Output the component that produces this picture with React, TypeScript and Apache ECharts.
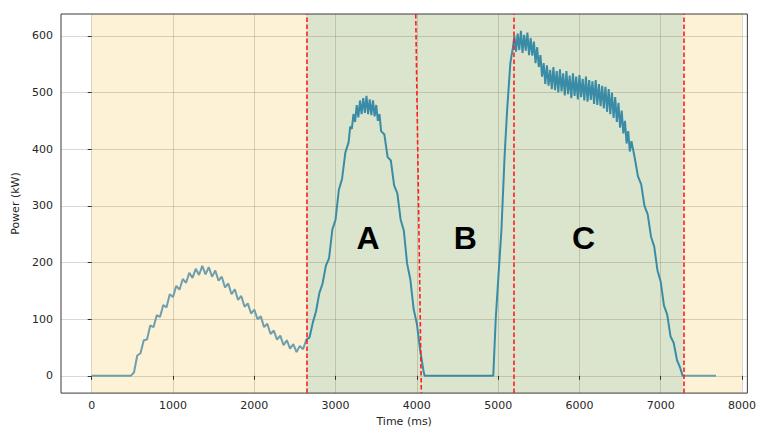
import React, { useEffect, useRef } from "react";
import * as echarts from "echarts";

// Idle + warm-up hump
const warmupTime = [0, 480, 520, 560, 600, 640, 680, 720, 760, 800, 840, 880, 920, 960, 1000, 1040, 1080, 1120, 1160, 1200, 1240, 1280, 1320, 1360, 1400, 1440, 1480, 1520, 1560, 1600, 1640, 1680, 1720, 1760, 1800, 1840, 1880, 1920, 1960, 2000, 2040, 2080, 2120, 2160, 2200, 2240, 2280, 2320, 2360, 2400, 2440, 2480, 2520, 2560, 2600];
const warmupPower = [0, 0, 6, 36, 40, 63, 64, 89, 86, 107, 104, 125, 121, 144, 139, 159, 152, 171, 164, 182, 173, 189, 178, 194, 179, 192, 175, 186, 168, 175, 156, 163, 144, 153, 134, 141, 122, 128, 110, 117, 100, 105, 86, 92, 74, 80, 64, 71, 54, 63, 48, 56, 42, 53, 47];

// Phase A
const phaseATime = [
  2640, 2680, 2720, 2760, 2800, 2840, 2880, 2920, 2960, 3000, 3040, 3080, 3120,
  3160, 3180, 3200, 3220, 3240, 3260, 3280, 3300, 3320, 3340, 3360, 3380, 3400, 3420, 3440, 3460, 3480, 3500, 3520, 3540, 3560,
  3600, 3640, 3680, 3720, 3760, 3800, 3840, 3880, 3920, 3960, 4000, 4040, 4080,
  4095,
];
const phaseAPower = [
  64, 68, 94, 114, 146, 163, 194, 208, 258, 276, 328, 348, 394,
  412, 440, 436, 462, 448, 478, 456, 486, 462, 490, 464, 494, 462, 488, 460, 486, 458, 478, 450, 462, 432,
  426, 386, 380, 336, 322, 276, 256, 198, 170, 118, 92, 46, 10,
  0,
];

// Phase B (idle)
const phaseBTime = [4940];
const phaseBPower = [0];

// Phase C
const phaseCTime = [
  4970, 5000, 5040, 5080, 5110, 5150, 5180,
  5200, 5220, 5240, 5260, 5280, 5300, 5320, 5340, 5360, 5380,
  5400, 5420, 5440, 5460, 5480, 5500, 5520, 5540, 5560, 5580,
  5600, 5620, 5640, 5660, 5680, 5700, 5720, 5740, 5760, 5780,
  5800, 5820, 5840, 5860, 5880, 5900, 5920, 5940, 5960, 5980,
  6000, 6020, 6040, 6060, 6080, 6100, 6120, 6140, 6160, 6180,
  6200, 6220, 6240, 6260, 6280, 6300, 6320, 6340, 6360, 6380,
  6400, 6420, 6440, 6460, 6480, 6500, 6520, 6540, 6560, 6580,
  6600, 6620, 6640,
  6680, 6720, 6760, 6800, 6840, 6880, 6920, 6960, 7000, 7040, 7080, 7120, 7160, 7200, 7240,
  7270, 7680,
];
const phaseCPower = [
  100, 168, 256, 390, 468, 552, 578,
  600, 572, 604, 575, 609, 570, 602, 574, 606, 566,
  596, 565, 590, 552, 580, 545, 566, 528, 552, 515,
  548, 512, 540, 506, 545, 504, 538, 500, 541, 502,
  534, 495, 538, 497, 530, 490, 534, 494, 528, 488,
  531, 492, 524, 486, 528, 484, 522, 487, 520, 480,
  522, 478, 515, 476, 512, 472, 510, 466, 506, 462,
  500, 455, 492, 448, 482, 438, 468, 428, 450, 410,
  432, 396, 414,
  385, 352, 338, 300, 285, 246, 228, 186, 166, 124, 108, 70, 58, 28, 14,
  0, 0,
];

// Shaded regions [start, end] in ms
const yellowRegions = [[0, 2640], [7280, 8000]];
const greenRegions = [[2640, 7280]];

// Red dashed boundaries
const boundaryLines = [2640, 5190, 7280];
const slantedBoundary = [[3986, 638.6], [4055, -30.4]];

const xTicks = [0, 1000, 2000, 3000, 4000, 5000, 6000, 7000, 8000];
const yTicks = [0, 100, 200, 300, 400, 500, 600];

const phaseLabels = [
  { text: "A", t: 3399, v: 243 },
  { text: "B", t: 4597, v: 243 },
  { text: "C", t: 6051, v: 243 },
];

const X_MIN = -378;
const X_MAX = 8066;
const Y_MIN = -30.4;
const Y_MAX = 638.6;

export default function App() {
  const ref = useRef<HTMLDivElement>(null);
  useEffect(() => {
    const chart = echarts.init(ref.current!, null, { renderer: "svg" });
    const time = [...warmupTime, ...phaseATime, ...phaseBTime, ...phaseCTime];
    const power = [...warmupPower, ...phaseAPower, ...phaseBPower, ...phaseCPower];
    const data = time.map((t, i) => [t, power[i]]);
    const font = "DejaVu Sans";
    const gridColor = "rgba(115,95,65,0.25)";

    chart.setOption({
      animation: false,
      grid: {
        left: 61,
        top: 14,
        width: 690.5,
        height: 381,
        show: true,
        borderColor: "#3a3a3a",
        borderWidth: 1,
        backgroundColor: "transparent",
        z: 3,
      },
      visualMap: {
        show: false,
        type: "piecewise",
        seriesIndex: 1,
        dimension: 0,
        pieces: [
          { lt: 2640, color: "#6e9fae" },
          { gte: 2640, lte: 7280, color: "#3a8ca6" },
          { gt: 7280, color: "#6e9fae" },
        ],
      },
      xAxis: {
        type: "value",
        min: X_MIN,
        max: X_MAX,
        splitNumber: 8,
        z: 1,
        name: "Time (ms)",
        nameLocation: "middle",
        nameGap: 14,
        nameTextStyle: { fontFamily: font, fontSize: 11, color: "#262626" },
        axisLine: { show: false },
        axisTick: { show: true, length: 4, lineStyle: { color: "#333" }, customValues: xTicks },
        axisLabel: {
          fontFamily: font,
          fontSize: 11,
          color: "#262626",
          margin: 7,
          customValues: xTicks,
          formatter: (v: number) => String(v),
        },
        splitLine: { show: true, lineStyle: { color: gridColor, width: 1 } },
      },
      yAxis: {
        type: "value",
        min: Y_MIN,
        max: Y_MAX,
        splitNumber: 6,
        z: 1,
        name: "Power (kW)",
        nameLocation: "middle",
        nameGap: 33,
        nameTextStyle: { fontFamily: font, fontSize: 11, color: "#262626" },
        axisLine: { show: false },
        axisTick: { show: true, length: 4, lineStyle: { color: "#333" }, customValues: yTicks },
        axisLabel: {
          fontFamily: font,
          fontSize: 11,
          color: "#262626",
          margin: 8,
          customValues: yTicks,
          formatter: (v: number) => String(v),
        },
        splitLine: { show: true, lineStyle: { color: gridColor, width: 1 } },
      },
      series: [
        {
          type: "line",
          data: [],
          z: 0,
          silent: true,
          markArea: {
            z: 0,
            silent: true,
            data: [
              ...yellowRegions.map(([a, b]) => [
                { xAxis: a, itemStyle: { color: "#fdf1d6" } },
                { xAxis: b },
              ]),
              ...greenRegions.map(([a, b]) => [
                { xAxis: a, itemStyle: { color: "#dbe5cd" } },
                { xAxis: b },
              ]),
            ],
          },
        },
        {
          type: "line",
          data,
          z: 2,
          showSymbol: false,
          symbol: "none",
          lineStyle: { width: 2 },
          markLine: {
            silent: true,
            symbol: ["none", "none"],
            label: { show: false },
            lineStyle: { color: "#ff1f1f", width: 1.6, type: [4.5, 2.5] },
            data: [
              ...boundaryLines.map((x) => ({ xAxis: x })),
              [{ coord: slantedBoundary[0] }, { coord: slantedBoundary[1] }],
            ],
          },
        },
      ],
    });

    const graphics = phaseLabels.map((l) => {
      const p = chart.convertToPixel({ gridIndex: 0 }, [l.t, l.v]) as number[];
      return {
        type: "text",
        x: p[0],
        y: p[1],
        z: 10,
        style: {
          text: l.text,
          fill: "#000",
          font: 'bold 32px "Liberation Sans"',
          align: "center",
          verticalAlign: "middle",
        },
      };
    });
    chart.setOption({ graphic: graphics });

    return () => chart.dispose();
  }, []);
  return (
    <div
      ref={ref}
      style={{ position: "fixed", left: 0, top: 0, width: 759, height: 432, background: "#fff" }}
    />
  );
}
